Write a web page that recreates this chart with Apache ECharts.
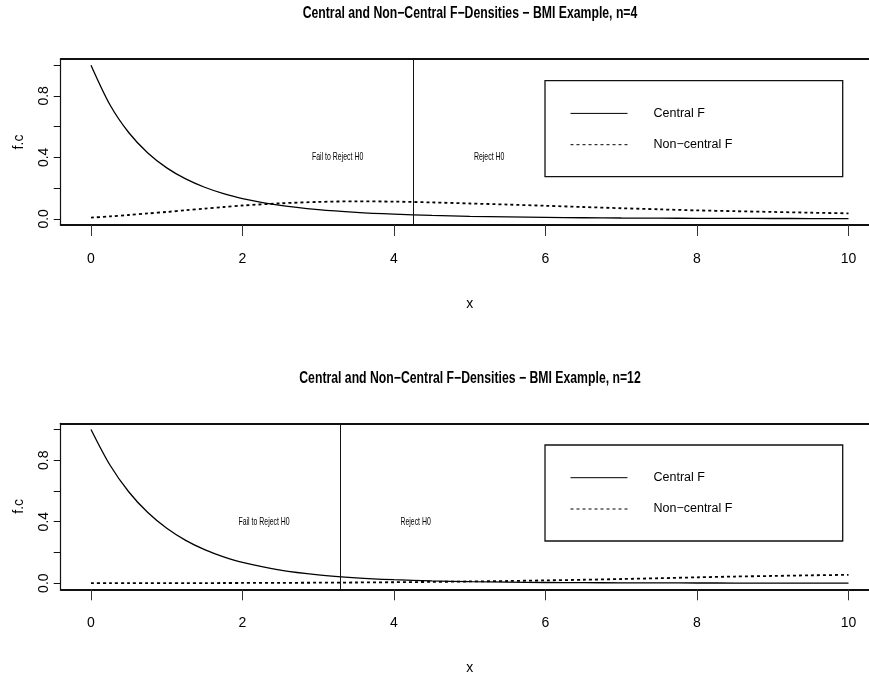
<!DOCTYPE html>
<html><head><meta charset="utf-8">
<script src="https://cdn.jsdelivr.net/npm/echarts@6/dist/echarts.min.js"></script>
<style>html,body{margin:0;padding:0;background:#fff}#c{width:869px;height:677px}</style>
</head><body><div id="c"></div>
<script>
const xs = [0, 0.25, 0.5, 0.75, 1, 1.25, 1.5, 1.75, 2, 2.5, 3, 3.5, 4, 4.5, 5, 5.5, 6, 6.5, 7, 7.5, 8, 8.5, 9, 9.5, 10];
// panel 1 (n=4)
const central4 = [1, 0.7427, 0.5602, 0.4284, 0.3317, 0.2597, 0.2055, 0.1642, 0.1323, 0.0880, 0.0602, 0.0422, 0.0303, 0.0221, 0.0164, 0.0124, 0.0095, 0.0073, 0.0057, 0.0045, 0.0036, 0.0029, 0.0024, 0.0020, 0.0016];
const noncentral4 = [0.008, 0.016, 0.025, 0.035, 0.045, 0.056, 0.066, 0.077, 0.087, 0.101, 0.110, 0.114, 0.112, 0.107, 0.100, 0.093, 0.085, 0.077, 0.069, 0.062, 0.055, 0.050, 0.045, 0.040, 0.036];
// panel 2 (n=12)
const central12 = [1, 0.7686, 0.5931, 0.4594, 0.3571, 0.2786, 0.2181, 0.1713, 0.1350, 0.0847, 0.0537, 0.0345, 0.0224, 0.0147, 0.0097, 0.0065, 0.0044, 0.0030, 0.0021, 0.0014, 0.0010, 0.0007, 0.0005, 0.0003, 0.0002];
const noncentral12 = [0, 0.00005, 0.0001, 0.0002, 0.0003, 0.0004, 0.0006, 0.0009, 0.0012, 0.002, 0.003, 0.0043, 0.006, 0.008, 0.011, 0.014, 0.018, 0.022, 0.027, 0.032, 0.038, 0.043, 0.047, 0.051, 0.054];
const criticalValues = [4.256, 3.285];
const titles = ['Central and Non\u2212Central F\u2212Densities \u2212 BMI Example, n=4', 'Central and Non\u2212Central F\u2212Densities \u2212 BMI Example, n=12'];
const xTicks = [0, 2, 4, 6, 8, 10];
const yTicks = [0, 0.2, 0.4, 0.6, 0.8, 1.0];
const yTickLabels = [0, 0.4, 0.8];
const legendNames = ['Central F', 'Non\u2212central F'];
const regionLabels = ['Fail to Reject H0', 'Reject H0'];
const regionLabelY = 0.4;
const xName = 'x';
const yName = 'f.c';

const SANS = "'Liberation Sans',Arial,Helvetica,sans-serif";

const centralSets = [central4, central12];
const noncentralSets = [noncentral4, noncentral12];
const panelTops = [59, 423.3];
const titleCenters = [14, 379];
const GL = 60.7, GW = 818.1, GH = 166;

const chart = echarts.init(document.getElementById('c'));
const grid = [], xAxis = [], yAxis = [], series = [], legend = [], graphic = [];

panelTops.forEach((top, i) => {
  grid.push({left: GL, top: top, width: GW, height: GH, show: false, containLabel: false, outerBoundsMode: 'none'});
  graphic.push({type: 'text', id: 'title' + i, x: 470, y: titleCenters[i], scaleX: 0.765, silent: true,
    style: {text: titles[i], fontFamily: SANS, fontWeight: 'bold', fontSize: 16, fill: '#000',
      align: 'center', verticalAlign: 'middle'}});
  xAxis.push({type: 'value', gridIndex: i, min: -0.4, max: 10.4, position: 'bottom',
    name: xName, nameLocation: 'middle', nameGap: 72,
    nameTextStyle: {fontFamily: SANS, fontSize: 14, color: '#000'},
    axisLine: {show: true, onZero: false, lineStyle: {color: '#111', width: 1.8}},
    axisTick: {show: true, length: 11, customValues: xTicks, lineStyle: {color: '#333', width: 1}},
    axisLabel: {customValues: xTicks, margin: 27, fontFamily: SANS, fontSize: 14, color: '#000'},
    splitLine: {show: false}});
  xAxis.push({type: 'value', gridIndex: i, min: -0.4, max: 10.4, position: 'top',
    axisLine: {show: true, onZero: false, lineStyle: {color: '#111', width: 1.8}},
    axisTick: {show: false}, axisLabel: {show: false}, splitLine: {show: false}});
  yAxis.push({type: 'value', gridIndex: i, min: -0.04, max: 1.04,
    name: yName, nameLocation: 'middle', nameGap: 35, nameRotate: 90,
    nameTextStyle: {fontFamily: SANS, fontSize: 14, color: '#000'},
    axisLine: {show: true, onZero: false, lineStyle: {color: '#111', width: 1.2}},
    axisTick: {show: true, length: 7, customValues: yTicks, lineStyle: {color: '#111', width: 1}},
    axisLabel: {customValues: yTickLabels, rotate: 90, margin: 10, fontFamily: SANS, fontSize: 14, color: '#000',
      formatter: v => Number(v).toFixed(1)},
    splitLine: {show: false}});
  series.push({type: 'line', name: legendNames[0], xAxisIndex: 2 * i, yAxisIndex: i,
    data: xs.map((x, k) => [x, centralSets[i][k]]), symbol: 'none', smooth: 0.3,
    lineStyle: {color: '#000', width: 1.3}, itemStyle: {color: '#000'}, z: 3,
    markLine: {silent: true, symbol: ['none', 'none'], label: {show: false},
      lineStyle: {color: '#111', width: 1, type: 'solid'}, data: [{xAxis: criticalValues[i]}]}});
  series.push({type: 'line', name: legendNames[1], xAxisIndex: 2 * i, yAxisIndex: i,
    data: xs.map((x, k) => [x, noncentralSets[i][k]]), symbol: 'none', smooth: 0.3,
    lineStyle: {color: '#000', width: 1.8, type: [3, 3]}, itemStyle: {color: '#000'}, z: 3});
  legend.push({data: legendNames, orient: 'vertical', left: 570, top: top + 21.7 + 26.2,
    itemWidth: 57, itemHeight: 14, itemGap: 18.3, padding: 0, selectedMode: false,
    itemStyle: {opacity: 0}, lineStyle: {width: 1},
    textStyle: {fontFamily: SANS, fontSize: 12.5, color: '#000', padding: [0, 0, 0, 21]}});
  graphic.push({type: 'rect', id: 'legendBox' + i, silent: true, shape: {x: 545, y: top + 21.7, width: 297.7, height: 96},
    style: {fill: 'none', stroke: '#111', lineWidth: 1.3}});
});

chart.setOption({animation: false, backgroundColor: '#fff', grid, xAxis, yAxis, series, legend, graphic});

// region labels placed at data coordinates through the chart's own scales
const regionTexts = [];
criticalValues.forEach((c, i) => {
  [c - 1, c + 1].forEach((xv, j) => {
    const p = chart.convertToPixel({gridIndex: i}, [xv, regionLabelY]);
    regionTexts.push({type: 'text', id: 'region' + i + '_' + j, x: p[0], y: p[1], scaleX: 0.63, silent: true,
      style: {text: regionLabels[j], fontFamily: SANS, fontSize: 11, fill: '#000', align: 'center', verticalAlign: 'middle'}});
  });
});
chart.setOption({graphic: graphic.concat(regionTexts)});
</script></body></html>
